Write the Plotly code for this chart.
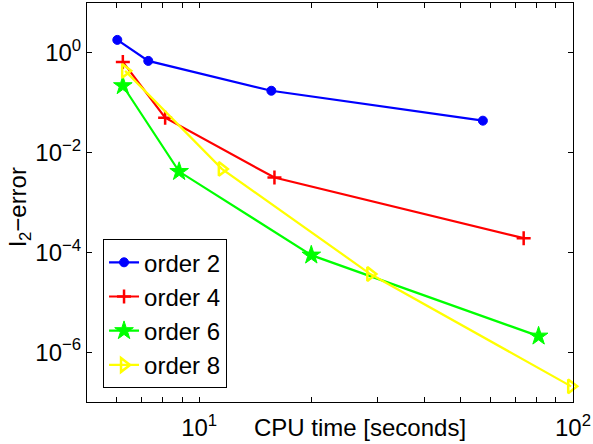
import plotly.graph_objects as go

# data (CPU time [s], l2 error)
cpu_order2 = [6.04, 7.31, 15.6, 57.4]
err_order2 = [1.82, 0.69, 0.174, 0.0437]
cpu_order4 = [6.25, 8.11, 15.9, 73.8]
err_order4 = [0.66, 0.050, 0.00316, 1.93e-4]
cpu_order6 = [6.25, 8.84, 19.95, 80.9]
err_order6 = [0.219, 0.00417, 8.8e-5, 2.09e-6]
cpu_order8 = [6.34, 11.5, 28.7, 98.9]
err_order8 = [0.436, 0.00472, 3.68e-5, 2.06e-7]

names = ["order 2", "order 4", "order 6", "order 8"]
colors = ["#0000ff", "#ff0000", "#00ff00", "#ffff00"]
symbols = ["circle", "cross-thin", "star", "triangle-right-open"]
sizes = [9, 10, 14, 12]
outline = [1, 2.5, 1, 2.5]

xtick_vals = [10, 100]
xtick_text = ["10<sup>1</sup>", "10<sup>2</sup>"]
xminor_vals = [6, 7, 8, 9, 20, 30, 40, 50, 60, 70, 80, 90]
ytick_vals = [1e0, 1e-2, 1e-4, 1e-6]
ytick_text = ["10<sup>0</sup>", "10<sup>−2</sup>", "10<sup>−4</sup>", "10<sup>−6</sup>"]

fig = go.Figure()
series = [(cpu_order2, err_order2), (cpu_order4, err_order4),
          (cpu_order6, err_order6), (cpu_order8, err_order8)]
for (x, y), n, c, s, sz, ow in zip(series, names, colors, symbols, sizes, outline):
    fig.add_trace(go.Scatter(
        x=x, y=y, name=n, mode="lines+markers",
        line=dict(color=c, width=2.2),
        marker=dict(symbol=s, size=sz, color=c, line=dict(color=c, width=ow)),
        cliponaxis=False,
    ))

font = "Liberation Sans, Arial, sans-serif"
FS = 24
fig.update_layout(
    width=593, height=444,
    margin=dict(l=87, r=20, t=3, b=42),
    paper_bgcolor="white", plot_bgcolor="white",
    font=dict(family=font, size=FS, color="black"),
    showlegend=True,
    legend=dict(x=0.033, y=0.408, xanchor="left", yanchor="top",
                bordercolor="black", borderwidth=1, bgcolor="white",
                font=dict(size=FS), tracegroupgap=0),
    xaxis=dict(type="log", range=[0.70, 2.0],
               tickvals=xtick_vals + xminor_vals,
               ticktext=xtick_text + [""] * len(xminor_vals),
               ticks="inside", ticklen=5, tickcolor="black",
               ticklabelstandoff=4,
               showline=True, linecolor="black", linewidth=1, mirror="ticks",
               showgrid=False, zeroline=False),
    yaxis=dict(type="log", range=[-7, 1],
               tickvals=ytick_vals, ticktext=ytick_text,
               ticks="inside", ticklen=5, tickcolor="black",
               showline=True, linecolor="black", linewidth=1, mirror="ticks",
               showgrid=False, zeroline=False),
    annotations=[
        dict(text="CPU time [seconds]", xref="paper", yref="paper",
             x=0.5617, y=-0.063, xanchor="center", yanchor="middle",
             showarrow=False, font=dict(size=FS)),
        dict(text="l<sub>2</sub>−error", xref="paper", yref="paper",
             x=-0.138, y=0.49, xanchor="center", yanchor="middle",
             textangle=-90, showarrow=False, font=dict(size=FS)),
    ],
)

fig.write_html("out.html")
